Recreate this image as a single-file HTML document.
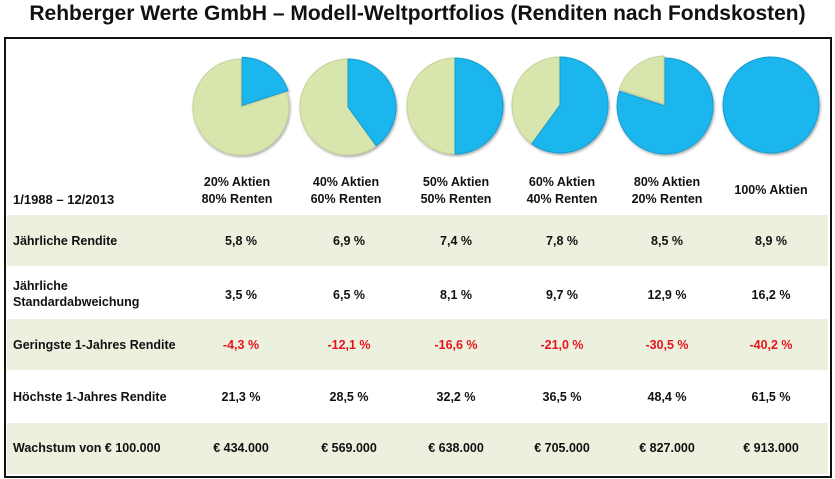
<!DOCTYPE html>
<html><head><meta charset="utf-8"><style>
body{margin:0;width:835px;height:479px;background:#fff;font-family:"Liberation Sans",sans-serif;position:relative;overflow:hidden}
.t{position:absolute;left:0;width:835px;top:2px;text-align:center;font-weight:bold;font-size:21px;color:#111}
.box{position:absolute;left:4px;top:37px;width:824px;height:437px;border:2.5px solid #111}
.row{position:absolute;left:7px;width:821px}
.g{background:#ebf1de}
.c{position:absolute;font-weight:bold;font-size:12.5px;color:#111;text-align:center;transform:translateX(-50%);white-space:nowrap;line-height:17px}
.l{position:absolute;left:13px;font-weight:bold;font-size:12.5px;color:#111;line-height:16px}
.r{color:#e8141c}
</style></head><body>
<div class="t">Rehberger Werte GmbH – Modell-Weltportfolios (Renditen nach Fondskosten)</div>
<div class="box"></div>
<div class="row g" style="top:215px;height:51px"></div>
<div class="row g" style="top:319px;height:51px"></div>
<div class="row g" style="top:423px;height:51px"></div>
<svg style="position:absolute;left:0;top:0" width="835" height="479">
<defs><filter id="s"><feDropShadow dx="1" dy="1.5" stdDeviation="1.2" flood-opacity="0.35"/></filter></defs>
<g filter="url(#s)" stroke-width="1">
<path d="M241,107 L286.6,92.2 A48,48 0 1,1 241,59 Z" fill="#d8e5ad" stroke="#c4d39a"/>
<path d="M242.2,105.4 L242.2,57.4 A48,48 0 0,1 287.8,90.6 Z" fill="#1bb6ee" stroke="#139dd0"/>
<path d="M348,107 L376.2,145.8 A48,48 0 1,1 348,59 Z" fill="#d8e5ad" stroke="#c4d39a"/>
<path d="M348,107 L348,59 A48,48 0 0,1 376.2,145.8 Z" fill="#1bb6ee" stroke="#139dd0"/>
<path d="M455,106 L455,154 A48,48 0 0,1 455,58 Z" fill="#d8e5ad" stroke="#c4d39a"/>
<path d="M455,106 L455,58 A48,48 0 0,1 455,154 Z" fill="#1bb6ee" stroke="#139dd0"/>
<path d="M560,105 L531.8,143.8 A48,48 0 0,1 560,57 Z" fill="#d8e5ad" stroke="#c4d39a"/>
<path d="M560,105 L560,57 A48,48 0 1,1 531.8,143.8 Z" fill="#1bb6ee" stroke="#139dd0"/>
<path d="M664,104 L619.4,89.2 A48,48 0 0,1 664,56 Z" fill="#d8e5ad" stroke="#c4d39a"/>
<path d="M665,106 L665,58 A48,48 0 1,1 619.4,91.2 Z" fill="#1bb6ee" stroke="#139dd0"/>
<circle cx="771" cy="105" r="48" fill="#1bb6ee" stroke="#139dd0"/>
</g></svg>
<div class="l" style="top:192px;font-size:13px">1/1988 – 12/2013</div>
<div class="c" style="left:237px;top:174px">20% Aktien<br>80% Renten</div>
<div class="c" style="left:346px;top:174px">40% Aktien<br>60% Renten</div>
<div class="c" style="left:456px;top:174px">50% Aktien<br>50% Renten</div>
<div class="c" style="left:562px;top:174px">60% Aktien<br>40% Renten</div>
<div class="c" style="left:667px;top:174px">80% Aktien<br>20% Renten</div>
<div class="c" style="left:771px;top:182px">100% Aktien</div>
<div class="l" style="top:233px">Jährliche Rendite</div>
<div class="l" style="top:278px">Jährliche<br>Standardabweichung</div>
<div class="l" style="top:337px">Geringste 1-Jahres Rendite</div>
<div class="l" style="top:389px">Höchste 1-Jahres Rendite</div>
<div class="l" style="top:440px">Wachstum von € 100.000</div>
<div class="c" style="left:241px;top:233px">5,8 %</div><div class="c" style="left:349px;top:233px">6,9 %</div><div class="c" style="left:456px;top:233px">7,4 %</div><div class="c" style="left:562px;top:233px">7,8 %</div><div class="c" style="left:667px;top:233px">8,5 %</div><div class="c" style="left:771px;top:233px">8,9 %</div>
<div class="c" style="left:241px;top:287px">3,5 %</div><div class="c" style="left:349px;top:287px">6,5 %</div><div class="c" style="left:456px;top:287px">8,1 %</div><div class="c" style="left:562px;top:287px">9,7 %</div><div class="c" style="left:667px;top:287px">12,9 %</div><div class="c" style="left:771px;top:287px">16,2 %</div>
<div class="c r" style="left:241px;top:337px">-4,3 %</div><div class="c r" style="left:349px;top:337px">-12,1 %</div><div class="c r" style="left:456px;top:337px">-16,6 %</div><div class="c r" style="left:562px;top:337px">-21,0 %</div><div class="c r" style="left:667px;top:337px">-30,5 %</div><div class="c r" style="left:771px;top:337px">-40,2 %</div>
<div class="c" style="left:241px;top:389px">21,3 %</div><div class="c" style="left:349px;top:389px">28,5 %</div><div class="c" style="left:456px;top:389px">32,2 %</div><div class="c" style="left:562px;top:389px">36,5 %</div><div class="c" style="left:667px;top:389px">48,4 %</div><div class="c" style="left:771px;top:389px">61,5 %</div>
<div class="c" style="left:241px;top:440px">€ 434.000</div><div class="c" style="left:349px;top:440px">€ 569.000</div><div class="c" style="left:456px;top:440px">€ 638.000</div><div class="c" style="left:562px;top:440px">€ 705.000</div><div class="c" style="left:667px;top:440px">€ 827.000</div><div class="c" style="left:771px;top:440px">€ 913.000</div>
</body></html>
